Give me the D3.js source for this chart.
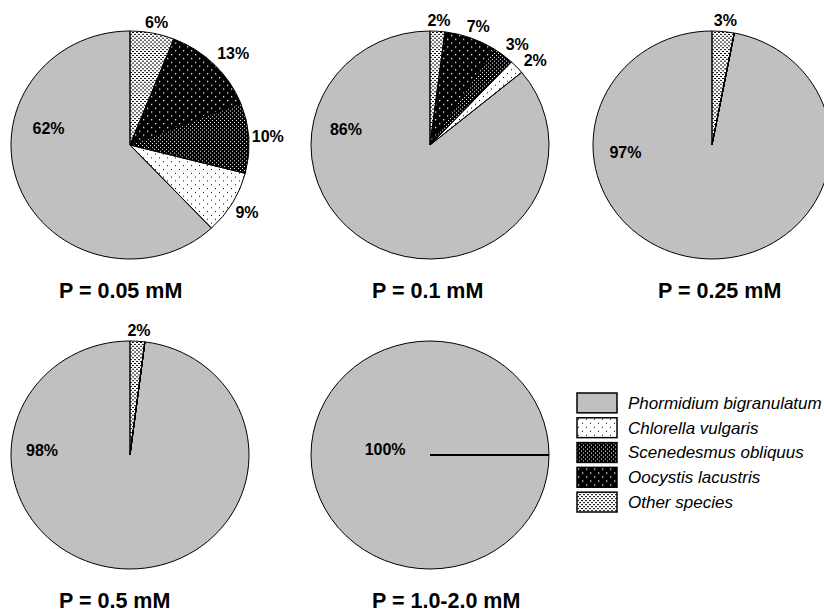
<!DOCTYPE html>
<html>
<head>
<meta charset="utf-8">
<script src="https://cdn.jsdelivr.net/npm/d3@7"></script>
<style>
  body { margin: 0; background: #fff; }
  svg { display: block; font-family: Arial, "Liberation Sans", sans-serif; }
</style>
</head>
<body>
<div id="chart"></div>
<script>
// data: share of each species (%) per phosphate concentration
const species = ["Phormidium bigranulatum", "Chlorella vulgaris", "Scenedesmus obliquus", "Oocystis lacustris", "Other species"];
const concentrations = ["P = 0.05 mM", "P = 0.1 mM", "P = 0.25 mM", "P = 0.5 mM", "P = 1.0-2.0 mM"];
const phormidium = [62, 86, 97, 98, 100];
const chlorella = [9, 2, 0, 0, 0];
const scenedesmus = [10, 3, 0, 0, 0];
const oocystis = [13, 7, 0, 0, 0];
const other = [6, 2, 3, 2, 0];

const w = 824;
const h = 613;
const rx = 119;
const ry = 114;
const fills = ["#c0c0c0", "url(#chlorella)", "url(#scened)", "url(#oocystis)", "url(#other)"];

// layout of the 2 x 3 grid
const colX = d3.scaleOrdinal().domain([0, 1, 2]).range([130, 430, 712]);
const rowY = d3.scaleOrdinal().domain([0, 1]).range([145, 455]);
const titleX = [59, 372, 658];
const startDeg = [0, 0, 0, 0, 90];
// where the label of the big (Phormidium) slice sits: angle in degrees, radius fraction
const mainLabelA = [-78, -79, -95, -87, -83];
const mainLabelR = [0.70, 0.72, 0.73, 0.74, 0.38];
const labelSize = 16;

let series = [phormidium, chlorella, scenedesmus, oocystis, other];

let svg = d3.select("#chart").append("svg").attr("width", w).attr("height", h);

// fill patterns
let defs = svg.append("defs");
let pat = (id, size, bg, fg, rects) => {
  let p = defs.append("pattern").attr("id", id).attr("patternUnits", "userSpaceOnUse")
    .attr("width", size).attr("height", size);
  p.append("rect").attr("width", size).attr("height", size).attr("fill", bg);
  rects.forEach(r => p.append("rect").attr("x", r[0]).attr("y", r[1]).attr("width", r[2]).attr("height", r[3]).attr("fill", fg));
};
pat("chlorella", 8, "#fff", "#000", [[1, 1, 1, 1], [5, 5, 1, 1]]);
pat("scened", 4, "#000", "#fff", [[0, 0, 1, 1], [2, 2, 1, 1]]);
pat("oocystis", 8, "#000", "#fff", [[1, 1, 1.3, 1.3], [5, 5, 1.3, 1.3]]);
pat("other", 4, "#fff", "#000", [[0, 0, 2, 1], [2, 2, 2, 1]]);

let arc = d3.arc().innerRadius(0).outerRadius(rx);

let placeOutside = (a, bw, bh) => {
  let s = Math.sin(a), c = Math.cos(a);
  let fx = Math.max(-1, Math.min(1, s * 1.6));
  let fy = Math.max(-1, Math.min(1, -c * 1.6));
  return [rx * s + fx * (bw / 2 + 3), -ry * c + fy * (bh / 2 + 3)];
};

concentrations.forEach((title, i) => {
  let cx = colX(i % 3);
  let cy = rowY(Math.floor(i / 3));
  // clockwise from the start: other, oocystis, scenedesmus, chlorella, phormidium
  let vals = species.map((name, k) => ({ name, k, value: series[k][i] })).reverse();
  let start = startDeg[i] * Math.PI / 180;
  let pie = d3.pie().sort(null).value(d => d.value).startAngle(start).endAngle(start + 2 * Math.PI);
  let slices = pie(vals);

  let g = svg.append("g").attr("transform", `translate(${cx},${cy}) scale(1,${ry / rx})`);
  // fills first, outlines on top (zero slices then still show as a line)
  g.selectAll("path.fill")
    .data(slices)
    .enter()
    .append("path")
    .attr("class", "fill")
    .attr("d", arc)
    .attr("fill", d => fills[d.data.k]);
  g.selectAll("path.edge")
    .data(slices)
    .enter()
    .append("path")
    .attr("class", "edge")
    .attr("d", arc)
    .attr("fill", "none")
    .attr("stroke", "#000")
    .attr("stroke-width", 1)
    .attr("vector-effect", "non-scaling-stroke");

  let lg = svg.append("g").attr("transform", `translate(${cx},${cy})`);
  let prev = null;
  slices.filter(d => d.value > 0).forEach(d => {
    let t = lg.append("text")
      .text(d.value + "%")
      .attr("font-size", labelSize)
      .attr("font-weight", "bold")
      .attr("text-anchor", "middle")
      .attr("dy", "0.35em");
    if (d.data.k == 0) {
      let a = mainLabelA[i] * Math.PI / 180;
      let r = mainLabelR[i];
      t.attr("x", rx * r * Math.sin(a)).attr("y", -ry * r * Math.cos(a));
      return;
    }
    let bw = t.node().getBBox().width;
    let a = (d.startAngle + d.endAngle) / 2;
    let p = placeOutside(a, bw, labelSize);
    // push clockwise while overlapping the previous label
    let n = 0;
    while (prev && Math.abs(p[0] - prev[0]) < (bw + prev[2]) / 2 && Math.abs(p[1] - prev[1]) < labelSize && n < 200) {
      a += 0.01;
      p = placeOutside(a, bw, labelSize);
      n++;
    }
    prev = [p[0], p[1], bw];
    t.attr("x", p[0]).attr("y", p[1]);
  });

  svg.append("text")
    .text(title)
    .attr("x", titleX[i % 3])
    .attr("y", cy + 153)
    .attr("font-size", 21.5)
    .attr("font-weight", "bold");
});

// legend
let legend = svg.append("g").attr("transform", "translate(577,393)");
let ly = d3.scaleBand().domain(species).range([0, 119]).paddingInner(0.2);
let items = legend.selectAll("g").data(species).enter().append("g")
  .attr("transform", d => `translate(0,${ly(d)})`);
items.append("rect")
  .attr("width", 40)
  .attr("height", ly.bandwidth())
  .attr("fill", (d, k) => fills[k])
  .attr("stroke", "#000")
  .attr("stroke-width", 1.5);
items.append("text")
  .text(d => d)
  .attr("x", 51)
  .attr("y", ly.bandwidth() / 2)
  .attr("dy", "0.35em")
  .attr("font-size", 17)
  .attr("font-style", "italic");
</script>
</body>
</html>
